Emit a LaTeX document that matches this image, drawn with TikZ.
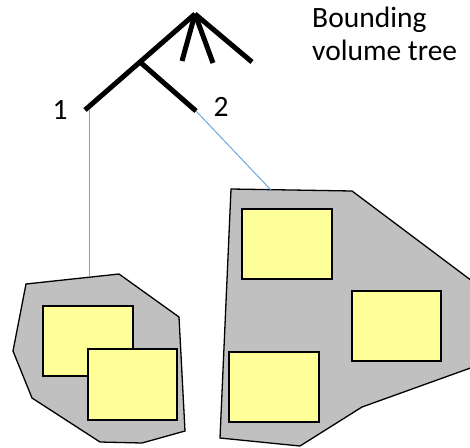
\documentclass[tikz,border=0pt]{standalone}
\usepackage{fontspec}
\setmainfont{Carlito}
\begin{document}
\begin{tikzpicture}[x=1pt,y=-1pt,
  treeline/.style={line width=5pt},
  linkline/.style={draw={rgb,255:red,110;green,165;blue,220},line width=1pt},
  hull/.style={draw=black,line width=1.3pt,fill={rgb,255:red,192;green,192;blue,192},line join=miter},
  bbox/.style={draw=black,line width=1.3pt,fill={rgb,255:red,255;green,255;blue,153}},
  lbl/.style={font=\fontsize{29.5}{33}\selectfont,inner sep=0pt}]
\useasboundingbox (0,0) rectangle (470,447);
\begin{scope}
\clip (0,0) rectangle (470,447);
% tree coordinates
\coordinate (root) at (195,14);
\coordinate (mid) at (140,62);
\coordinate (c1) at (182,61);
\coordinate (c2) at (213,63);
\coordinate (c3) at (252,62);
\coordinate (n1) at (85,110);
\coordinate (n2) at (196,111);
\coordinate (n1b) at (89,110);
% hulls
\draw[hull] (26,284) -- (119,274) -- (179,317) -- (185,431) -- (142,443) -- (100,442) -- (32,398) -- (13,351) -- cycle;
\draw[hull] (231,189) -- (352,191) -- (476,284) -- (476,366) -- (362,407) -- (300,446) -- (220,438) -- cycle;
\coordinate (h1) at (89,277);
\coordinate (h2) at (271,190);
% links
\draw[linkline] (n1b) -- (h1);
\draw[linkline] (n2) -- (h2);
% boxes
\node[bbox,minimum width=90pt,minimum height=70pt,inner sep=0pt] (a1) at (88,341) {};
\node[bbox,minimum width=89pt,minimum height=71pt,inner sep=0pt] (a2) at (132.5,384.5) {};
\node[bbox,minimum width=90pt,minimum height=70pt,inner sep=0pt] (b1) at (287,244) {};
\node[bbox,minimum width=89pt,minimum height=70pt,inner sep=0pt] (b2) at (396.5,326) {};
\node[bbox,minimum width=90pt,minimum height=70pt,inner sep=0pt] (b3) at (274,387) {};
% tree
\draw[treeline] (root) -- (mid) -- (n1);
\draw[treeline] (mid) -- (n2);
\draw[treeline] (root) -- (c1);
\draw[treeline] (root) -- (c2);
\draw[treeline] (root) -- (c3);
\end{scope}
% labels
\node[lbl] (l1) at (60,110) {1};
\node[lbl] (l2) at (221,107) {2};
\node[lbl,anchor=base west] (t1) at (312,27) {Bounding};
\node[lbl,anchor=base west] (t2) at (312,60) {volume tree};
\end{tikzpicture}
\end{document}
